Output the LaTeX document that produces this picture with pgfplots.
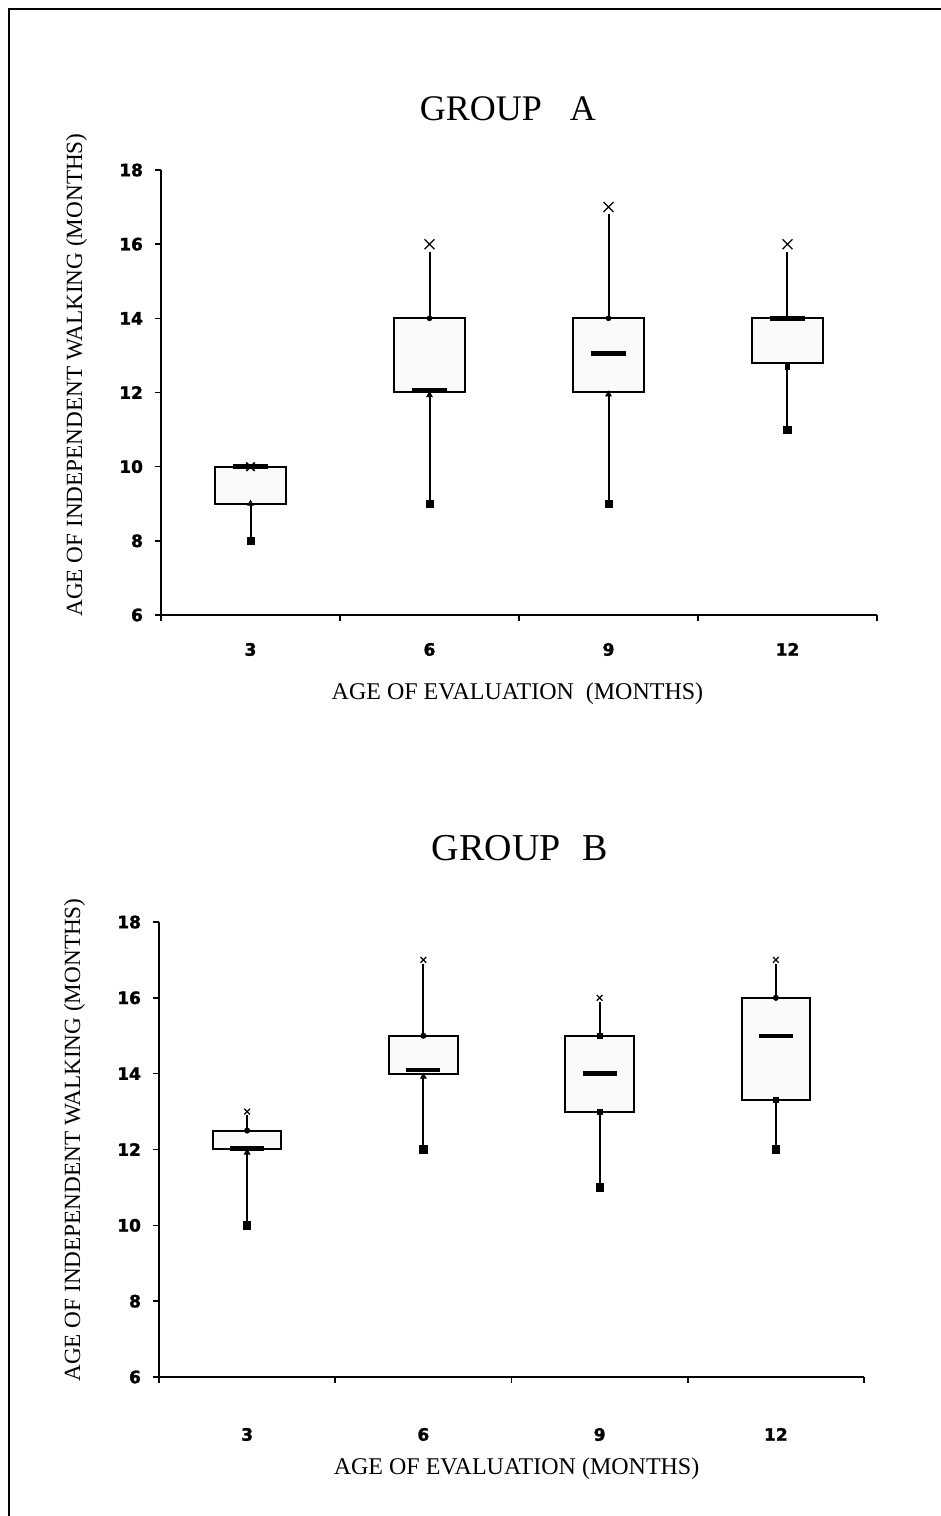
\documentclass[border=0pt]{standalone}
\usepackage{fontspec}
\setmainfont{Liberation Serif}
\newfontfamily\tickfont{DejaVu Sans}[BoldFeatures={FakeBold=1.6}]
\usepackage{pgfplots}
\pgfplotsset{compat=1.18}

\pgfplotsset{
  myaxis/.style={
    scale only axis,
    xmin=0.5, xmax=4.5, ymin=6, ymax=18,
    axis lines*=left,
    axis line style={line width=1.1pt, black},
    tick align=outside,
    major tick length=3pt,
    xtick={0.5,1.5,2.5,3.5,4.5}, xticklabels={},
    extra x ticks={1,2,3,4}, extra x tick labels={3,6,9,12},
    extra x tick style={major tick length=0pt, xticklabel style={yshift=-10.5pt}},
    ytick={6,8,...,18},
    tick style={line width=0.8pt, black},
    ticklabel style={font=\tickfont\bfseries\fontsize{8.5}{10}\selectfont},
    yticklabel style={xshift=-2.5pt},
    /pgf/number format/assume math mode=true,
    clip=false,
  },
  wh/.style={black, line width=1pt, mark=none},
  bx/.style={draw=black, line width=1pt, fill=black!2, mark=none},
  md/.style={black, line width=2.2pt, mark=none},
}

\begin{document}
\begin{tikzpicture}[x=1pt,y=1pt]
\useasboundingbox (0,0) rectangle (470.5,758);
\draw[line width=0.9pt] (4.5,-2) -- (4.5,753.5) -- (472,753.5);

% ---------------- GROUP A ----------------
\begin{axis}[myaxis, at={(80.5pt,450.5pt)}, anchor=south west, width=358pt, height=222.5pt]
% whiskers (min-Q1, Q3-max)
\addplot[wh] coordinates {(1,8) (1,9)};
\addplot[wh] coordinates {(2,9) (2,12)};
\addplot[wh] coordinates {(2,14) (2,15.8)};
\addplot[wh] coordinates {(3,9) (3,12)};
\addplot[wh] coordinates {(3,14) (3,16.8)};
\addplot[wh] coordinates {(4,11) (4,12.8)};
\addplot[wh] coordinates {(4,14) (4,15.8)};
% boxes (Q1 to Q3)
\addplot[bx] coordinates {(0.8,9) (1.2,9) (1.2,10) (0.8,10)} -- cycle;
\addplot[bx] coordinates {(1.8,12) (2.2,12) (2.2,14) (1.8,14)} -- cycle;
\addplot[bx] coordinates {(2.8,12) (3.2,12) (3.2,14) (2.8,14)} -- cycle;
\addplot[bx] coordinates {(3.8,12.8) (4.2,12.8) (4.2,14) (3.8,14)} -- cycle;
% medians
\addplot[md] coordinates {(0.904,10) (1.096,10)};
\addplot[md] coordinates {(1.904,12.05) (2.096,12.05)};
\addplot[md] coordinates {(2.904,13.05) (3.096,13.05)};
\addplot[md] coordinates {(3.904,14) (4.096,14)};
% minima
\addplot[only marks, mark=square*, mark size=1.8pt, black] coordinates {(1,8) (2,9) (3,9) (4,11)};
% maxima
\addplot[only marks, mark=x, mark size=3.5pt, black, mark options={line width=0.6pt}] coordinates {(2,16) (3,17) (4,16)};
\addplot[only marks, mark=x, mark size=3pt, black, mark options={line width=0.8pt}] coordinates {(1,10)};
% upper quartile dots
\addplot[only marks, mark=*, mark size=1.2pt, black] coordinates {(2,14) (3,14)};
% lower quartile marks
\addplot[only marks, mark=triangle*, mark size=1.6pt, black] coordinates {(1,9) (2,11.93) (3,11.95)};
\addplot[only marks, mark=square*, mark size=1.2pt, black] coordinates {(4,12.7)};
\end{axis}
\node[font=\fontsize{18}{20}\selectfont] at (254,703.5) {GROUP\hspace{14pt}A};
\node[font=\fontsize{12}{14}\selectfont, anchor=base] at (258.75,408) {AGE OF EVALUATION\ \ (MONTHS)};
\node[font=\fontsize{11.6}{14}\selectfont, anchor=base, rotate=90] at (41,570.5) {AGE OF INDEPENDENT WALKING (MONTHS)};

% ---------------- GROUP B ----------------
\begin{axis}[myaxis, at={(79.5pt,69.5pt)}, anchor=south west, width=352.5pt, height=227.5pt,
  axis line style={line width=0.9pt, black},
  extra x tick style={major tick length=0pt, xticklabel style={yshift=-11.5pt}}]
% whiskers
\addplot[wh] coordinates {(1,10) (1,12)};
\addplot[wh] coordinates {(1,12.5) (1,12.9)};
\addplot[wh] coordinates {(2,12) (2,14)};
\addplot[wh] coordinates {(2,15) (2,16.9)};
\addplot[wh] coordinates {(3,11) (3,13)};
\addplot[wh] coordinates {(3,15) (3,15.9)};
\addplot[wh] coordinates {(4,12) (4,13.3)};
\addplot[wh] coordinates {(4,16) (4,16.9)};
% boxes
\addplot[bx] coordinates {(0.805,12) (1.195,12) (1.195,12.5) (0.805,12.5)} -- cycle;
\addplot[bx] coordinates {(1.805,14) (2.195,14) (2.195,15) (1.805,15)} -- cycle;
\addplot[bx] coordinates {(2.805,13) (3.195,13) (3.195,15) (2.805,15)} -- cycle;
\addplot[bx] coordinates {(3.805,13.3) (4.195,13.3) (4.195,16) (3.805,16)} -- cycle;
% medians
\addplot[md] coordinates {(0.904,12.03) (1.096,12.03)};
\addplot[md] coordinates {(1.904,14.1) (2.096,14.1)};
\addplot[md] coordinates {(2.904,14) (3.096,14)};
\addplot[md] coordinates {(3.904,15) (4.096,15)};
% minima
\addplot[only marks, mark=square*, mark size=1.8pt, black] coordinates {(1,10) (2,12) (3,11) (4,12)};
% maxima
\addplot[only marks, mark=x, mark size=2pt, black, mark options={line width=0.6pt}] coordinates {(1,13) (2,17) (3,16) (4,17)};
% upper quartile dots
\addplot[only marks, mark=*, mark size=1.3pt, black] coordinates {(1,12.5) (2,15) (4,16)};
\addplot[only marks, mark=square*, mark size=1.3pt, black] coordinates {(3,15)};
% lower quartile marks
\addplot[only marks, mark=triangle*, mark size=1.6pt, black] coordinates {(1,11.92) (2,13.92)};
\addplot[only marks, mark=square*, mark size=1.3pt, black] coordinates {(3,13) (4,13.3)};
\end{axis}
\node[font=\fontsize{19}{21}\selectfont] at (260,333.75) {GROUP\hspace{11pt}B};
\node[font=\fontsize{12}{14}\selectfont, anchor=base] at (258.3,20.5) {AGE OF EVALUATION (MONTHS)};
\node[font=\fontsize{11.6}{14}\selectfont, anchor=base, rotate=90] at (40,188) {AGE OF INDEPENDENT WALKING (MONTHS)};
\end{tikzpicture}
\end{document}
